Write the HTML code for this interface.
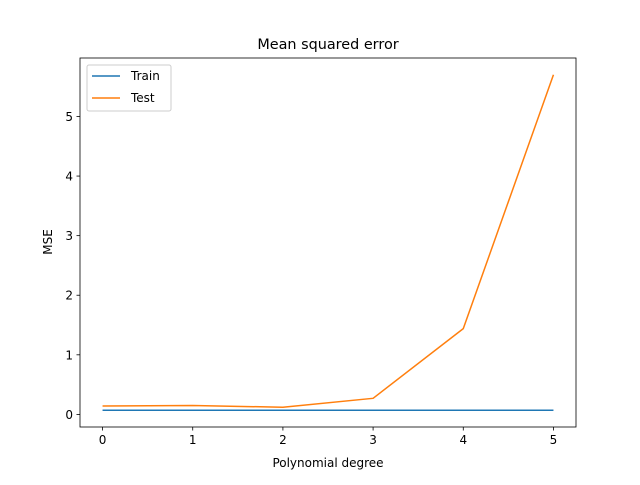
<!DOCTYPE html>
<html><head><meta charset="utf-8"><style>
body{margin:0;background:#fff;}
svg text{font-family:"DejaVu Sans","Liberation Sans",sans-serif;fill:#000;}
</style></head><body>
<svg id="chart" width="640" height="480" viewBox="0 0 640 480" xmlns="http://www.w3.org/2000/svg">
<rect width="640" height="480" fill="#fff"/>
<text x="328" y="49" font-size="14.4" text-anchor="middle">Mean squared error</text>
<g id="axes"></g>
<rect x="80" y="58" width="496" height="369" fill="none" stroke="#000" stroke-width="0.8"/>
<text x="328" y="467" font-size="12" text-anchor="middle">Polynomial degree</text>
<text x="0" y="0" font-size="12" text-anchor="middle" transform="translate(52,242) rotate(-90)">MSE</text>
<g>
<rect x="87" y="65" width="84" height="46" rx="2" fill="#fff" stroke="#ccc" stroke-width="1"/>
<line x1="92" y1="76" x2="120" y2="76" stroke="#1f77b4" stroke-width="1.5"/>
<text x="131" y="80" font-size="12">Train</text>
<line x1="92" y1="98" x2="120" y2="98" stroke="#ff7f0e" stroke-width="1.5"/>
<text x="131" y="102" font-size="12">Test</text>
</g>
</svg>
<script>
const degrees=[0,1,2,3,4,5];
const trainMSE=[0.07,0.07,0.07,0.07,0.07,0.07];
const testMSE=[0.14,0.15,0.12,0.27,1.44,5.7];
const xTicks=[0,1,2,3,4,5];
const yTicks=[0,1,2,3,4,5];
const L=80,R=576,T=58,B=427;
const all=trainMSE.concat(testMSE);
const ymin0=Math.min(...all),ymax0=Math.max(...all),yr=ymax0-ymin0;
const ymin=ymin0-0.05*yr,ymax=ymax0+0.05*yr;
const xmin0=Math.min(...degrees),xmax0=Math.max(...degrees),xr=xmax0-xmin0;
const xmin=xmin0-0.05*xr,xmax=xmax0+0.05*xr;
const sx=v=>L+(v-xmin)/(xmax-xmin)*(R-L);
const sy=v=>B-(v-ymin)/(ymax-ymin)*(B-T);
const ns="http://www.w3.org/2000/svg";
const g=document.getElementById('axes');
function mk(t,a){const e=document.createElementNS(ns,t);for(const k in a)e.setAttribute(k,a[k]);g.appendChild(e);return e;}
xTicks.forEach(v=>{
 const l=mk('line',{x1:sx(v),x2:sx(v),y1:B,y2:B+3.5,stroke:'#000','stroke-width':0.8});
 
 
 const t=mk('text',{x:sx(v),y:B+17,'font-size':12,'text-anchor':'middle'});t.textContent=v;
 
 
});
yTicks.forEach(v=>{
 const l=mk('line',{x1:L-3.5,x2:L,y1:sy(v),y2:sy(v),stroke:'#000','stroke-width':0.8});
 
 
 const t=mk('text',{x:L-7,y:sy(v)+4.5,'font-size':12,'text-anchor':'end'});t.textContent=v;
 
 
});
function line(vals,color,name){
 const p=mk('polyline',{points:degrees.map((d,i)=>sx(d)+','+sy(vals[i])).join(' '),fill:'none',stroke:color,'stroke-width':1.5,'stroke-linejoin':'round'});
 
 
}
line(trainMSE,'#1f77b4','train-line');
line(testMSE,'#ff7f0e','test-line');
</script>
</body></html>
